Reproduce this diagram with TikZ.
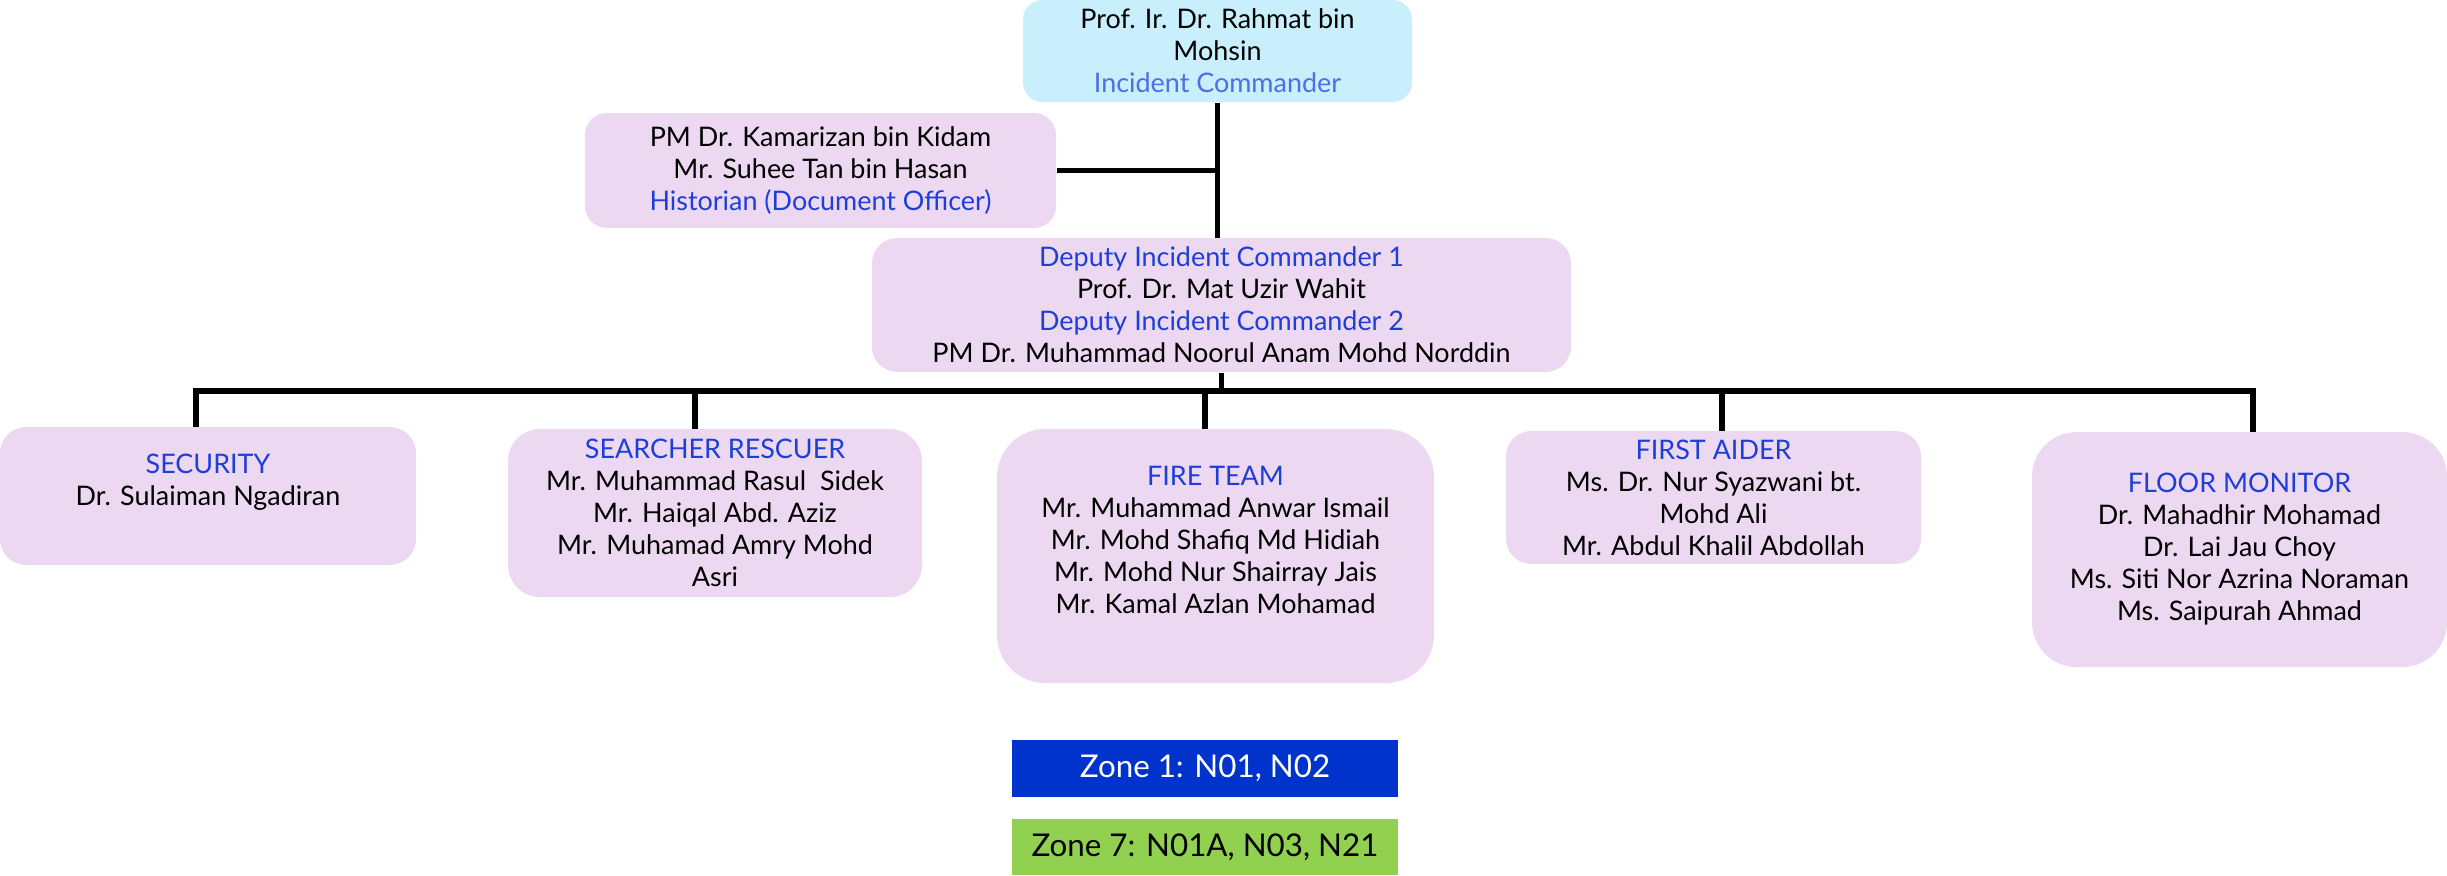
\documentclass[tikz,border=0pt]{standalone}
\usepackage{fontspec}
\setmainfont{Lato}
\usetikzlibrary{positioning}

\definecolor{lav}{RGB}{237,216,242}
\definecolor{sky}{RGB}{200,239,251}
\definecolor{roleblue}{RGB}{30,62,216}
\definecolor{icblue}{RGB}{76,110,230}
\definecolor{zoneblue}{RGB}{0,51,204}
\definecolor{zonegreen}{RGB}{146,208,80}

\tikzset{every picture/.style={line width=0.75pt}}
\tikzset{
	unit/.style={fill=lav, draw=none, align=center, inner sep=0pt, font=\fontsize{20.2}{24}\selectfont},
	zone/.style={draw=none, align=center, inner sep=0pt, minimum width=289.5pt, font=\fontsize{23.5}{26}\selectfont},
	link/.style={draw=black, line width=4pt},
}
\newcommand{\role}[1]{\textcolor{roleblue}{#1}}

\begin{document}
\begin{tikzpicture}[x=0.75pt,y=0.75pt,yscale=-1,xscale=1]
	\useasboundingbox (0,0) rectangle (2447,875);

	%Rounded Rect: incident commander
	\node[unit, fill=sky, rounded corners=14.5pt, minimum width=291.75pt, minimum height=76.5pt] (ic) at (1217.5,51)
		{Prof. Ir. Dr. Rahmat bin\\ Mohsin\\ \textcolor{icblue}{Incident Commander}};
	%Rounded Rect: historian
	\node[unit, rounded corners=16.4pt, minimum width=353.25pt, minimum height=86.25pt] (hist) at (820.5,170.5)
		{PM Dr. Kamarizan bin Kidam\\ Mr. Suhee Tan bin Hasan\\ \role{Historian (Document Officer)}};
	%Rounded Rect: deputies
	\node[unit, rounded corners=19pt, minimum width=524.25pt, minimum height=100.5pt] (dep) at (1221.5,305)
		{\role{Deputy Incident Commander 1}\\ Prof. Dr. Mat Uzir Wahit\\ \role{Deputy Incident Commander 2}\\ PM Dr. Muhammad Noorul Anam Mohd Norddin};

	%Rounded Rect: teams
	\node[unit, rounded corners=19.5pt, minimum width=312pt, minimum height=103.5pt] (sec) at (208,496)
		{\role{SECURITY}\\ Dr. Sulaiman Ngadiran\\ \mbox{}};
	\node[unit, rounded corners=24pt, minimum width=310.5pt, minimum height=126pt] (sea) at (715,513)
		{\role{SEARCHER RESCUER}\\ Mr. Muhammad Rasul\ \ Sidek\\ Mr. Haiqal Abd. Aziz\\ Mr. Muhamad Amry Mohd\\ Asri};
	\node[unit, rounded corners=36pt, minimum width=327.75pt, minimum height=190.5pt] (fire) at (1215.5,556)
		{\role{FIRE TEAM}\\ Mr. Muhammad Anwar Ismail\\ Mr. Mohd Shafiq Md Hidiah\\ Mr. Mohd Nur Shairray Jais\\ Mr. Kamal Azlan Mohamad\\ \mbox{}};
	\node[unit, rounded corners=19pt, minimum width=311.25pt, minimum height=99.75pt] (aid) at (1713.5,497.5)
		{\role{FIRST AIDER}\\ Ms. Dr. Nur Syazwani bt.\\ Mohd Ali\\ Mr. Abdul Khalil Abdollah};
	\node[unit, rounded corners=33.5pt, minimum width=311.25pt, minimum height=176.25pt] (flo) at (2239.5,549.5)
		{\role{FLOOR MONITOR}\\ Dr. Mahadhir Mohamad\\ Dr. Lai Jau Choy\\ Ms. Siti Nor Azrina Noraman\\ Ms. Saipurah Ahmad};

	%Straight Lines: trunk
	\draw[link] (ic.south) -- (ic.south |- dep.north);
	\draw[link] (hist.east) -- (hist.east -| ic.south);
	%Straight Lines: bus
	\coordinate (b1) at (196,391);
	\coordinate (b2) at (695,391);
	\coordinate (b3) at (1205,391);
	\coordinate (b4) at (1722,391);
	\coordinate (b5) at (2253,391);
	\draw[link] (dep.south) -- (dep.south |- b1);
	\draw[link] (b1 |- sec.north) -- (b1) -- (b5) -- (b5 |- flo.north);
	\draw[link] (b2) -- (b2 |- sea.north);
	\draw[link] (b3) -- (b3 |- fire.north);
	\draw[link] (b4) -- (b4 |- aid.north);

	% Text Node: zones
	\node[zone, fill=zoneblue, text=white, minimum height=42.75pt] (z1) at (1205,768.5) {Zone 1: N01, N02};
	\node[zone, fill=zonegreen, text=black, minimum height=42pt] (z7) at (1205,847) {Zone 7: N01A, N03, N21};

\end{tikzpicture}
\end{document}
